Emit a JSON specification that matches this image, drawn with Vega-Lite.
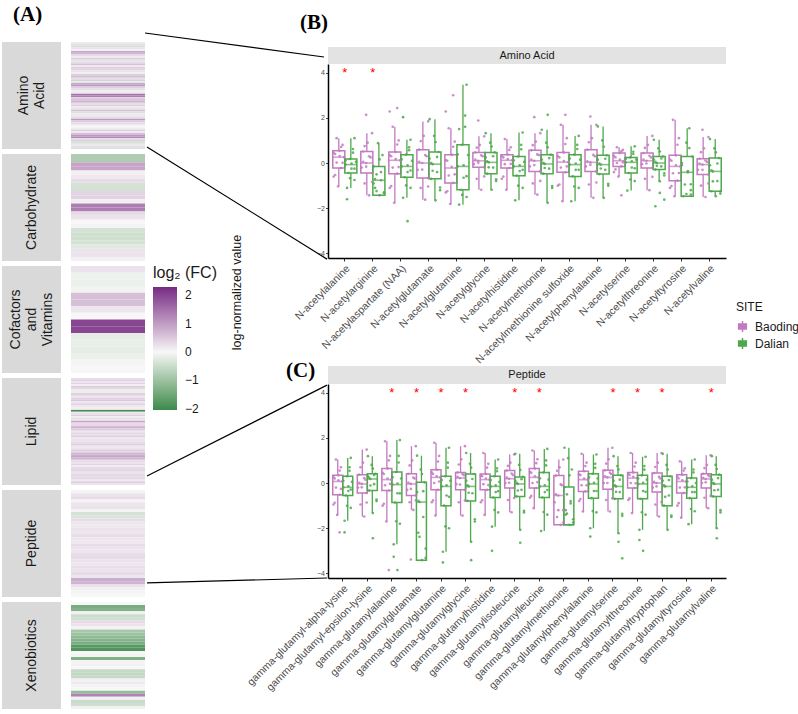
{
"$schema":"https://vega.github.io/schema/vega-lite/v6.json",
"padding":{"left":2,"top":4,"right":2,"bottom":2},
"background":"white",
"config":{"font":"Liberation Sans","view":{"stroke":null},"axis":{"grid":false},"title":{"color":"black"}},
"datasets":{
"heat":[
{"c":"AA","i":1,"f":0.15},{"c":"AA","i":2,"f":0.3},{"c":"AA","i":3,"f":-0.4},{"c":"AA","i":4,"f":0.22},{"c":"AA","i":5,"f":0.08},{"c":"AA","i":6,"f":0.9},{"c":"AA","i":7,"f":0.75},{"c":"AA","i":8,"f":0.3},{"c":"AA","i":9,"f":0.15},{"c":"AA","i":10,"f":0.45},
{"c":"AA","i":11,"f":-0.26},{"c":"AA","i":12,"f":0.3},{"c":"AA","i":13,"f":0.6},{"c":"AA","i":14,"f":0.15},{"c":"AA","i":15,"f":0.45},{"c":"AA","i":16,"f":0.38},{"c":"AA","i":17,"f":0.22},{"c":"AA","i":18,"f":-0.13},{"c":"AA","i":19,"f":0.45},{"c":"AA","i":20,"f":0.6},
{"c":"AA","i":21,"f":0.3},{"c":"AA","i":22,"f":-0.52},{"c":"AA","i":23,"f":0.22},{"c":"AA","i":24,"f":0.9},{"c":"AA","i":25,"f":1.05},{"c":"AA","i":26,"f":0.45},{"c":"AA","i":27,"f":0.3},{"c":"AA","i":28,"f":-0.13},{"c":"AA","i":29,"f":0.15},{"c":"AA","i":30,"f":1.5},
{"c":"AA","i":31,"f":1.35},{"c":"AA","i":32,"f":0.45},{"c":"AA","i":33,"f":0.6},{"c":"AA","i":34,"f":0.75},{"c":"AA","i":35,"f":0.3},{"c":"AA","i":36,"f":0.45},{"c":"AA","i":37,"f":0.15},{"c":"AA","i":38,"f":-0.26},{"c":"AA","i":39,"f":0.6},{"c":"AA","i":40,"f":0.3},
{"c":"AA","i":41,"f":0.15},{"c":"AA","i":42,"f":-0.2},{"c":"AA","i":43,"f":0.3},{"c":"AA","i":44,"f":1.05},{"c":"AA","i":45,"f":0.45},{"c":"AA","i":46,"f":0.3},{"c":"AA","i":47,"f":0.15},{"c":"AA","i":48,"f":0.0},{"c":"AA","i":49,"f":-0.13},{"c":"AA","i":50,"f":0.45},
{"c":"AA","i":51,"f":0.15},{"c":"AA","i":52,"f":0.6},{"c":"AA","i":53,"f":1.05},{"c":"AA","i":54,"f":1.2},{"c":"AA","i":55,"f":0.3},{"c":"AA","i":56,"f":0.45},{"c":"AA","i":57,"f":-0.4},{"c":"AA","i":58,"f":0.15},{"c":"AA","i":59,"f":0.3},{"c":"AA","i":60,"f":-0.4},
{"c":"CH","i":1,"f":-0.78},{"c":"CH","i":2,"f":-0.78},{"c":"CH","i":3,"f":0.9},{"c":"CH","i":4,"f":0.9},{"c":"CH","i":5,"f":0.08},{"c":"CH","i":6,"f":0.15},{"c":"CH","i":7,"f":0.3},{"c":"CH","i":8,"f":-0.4},{"c":"CH","i":9,"f":-0.4},{"c":"CH","i":10,"f":0.38},
{"c":"CH","i":11,"f":0.38},{"c":"CH","i":12,"f":0.08},{"c":"CH","i":13,"f":1.35},{"c":"CH","i":14,"f":1.35},{"c":"CH","i":15,"f":0.3},{"c":"CH","i":16,"f":0.22},{"c":"CH","i":17,"f":0.0},{"c":"CH","i":18,"f":0.03},{"c":"CH","i":19,"f":-0.4},{"c":"CH","i":20,"f":-0.45},
{"c":"CH","i":21,"f":-0.45},{"c":"CH","i":22,"f":-0.4},{"c":"CH","i":23,"f":-0.26},{"c":"CH","i":24,"f":0.22},{"c":"CH","i":25,"f":0.22},{"c":"CH","i":26,"f":0.08},
{"c":"CV","i":1,"f":0.22},{"c":"CV","i":2,"f":-0.1},{"c":"CV","i":3,"f":-0.13},{"c":"CV","i":4,"f":-0.07},{"c":"CV","i":5,"f":0.6},{"c":"CV","i":6,"f":0.6},{"c":"CV","i":7,"f":0.18},{"c":"CV","i":8,"f":0.0},{"c":"CV","i":9,"f":2.0},{"c":"CV","i":10,"f":2.0},
{"c":"CV","i":11,"f":-0.2},{"c":"CV","i":12,"f":-0.16},{"c":"CV","i":13,"f":-0.2},{"c":"CV","i":14,"f":-0.13},{"c":"CV","i":15,"f":0.03},{"c":"CV","i":16,"f":0.0},
{"c":"LI","i":1,"f":0.3},{"c":"LI","i":2,"f":0.45},{"c":"LI","i":3,"f":0.15},{"c":"LI","i":4,"f":0.38},{"c":"LI","i":5,"f":0.08},{"c":"LI","i":6,"f":0.45},{"c":"LI","i":7,"f":0.52},{"c":"LI","i":8,"f":0.15},{"c":"LI","i":9,"f":-0.2},{"c":"LI","i":10,"f":-0.13},
{"c":"LI","i":11,"f":0.6},{"c":"LI","i":12,"f":0.3},{"c":"LI","i":13,"f":0.22},{"c":"LI","i":14,"f":0.45},{"c":"LI","i":15,"f":0.52},{"c":"LI","i":16,"f":0.15},{"c":"LI","i":17,"f":0.3},{"c":"LI","i":18,"f":0.38},{"c":"LI","i":19,"f":0.15},{"c":"LI","i":20,"f":0.08},
{"c":"LI","i":21,"f":0.22},{"c":"LI","i":22,"f":-2.0},{"c":"LI","i":23,"f":0.15},{"c":"LI","i":24,"f":0.3},{"c":"LI","i":25,"f":0.45},{"c":"LI","i":26,"f":-0.13},{"c":"LI","i":27,"f":0.3},{"c":"LI","i":28,"f":0.22},{"c":"LI","i":29,"f":0.9},{"c":"LI","i":30,"f":0.45},
{"c":"LI","i":31,"f":0.3},{"c":"LI","i":32,"f":0.6},{"c":"LI","i":33,"f":0.75},{"c":"LI","i":34,"f":0.45},{"c":"LI","i":35,"f":0.3},{"c":"LI","i":36,"f":0.22},{"c":"LI","i":37,"f":0.38},{"c":"LI","i":38,"f":0.3},{"c":"LI","i":39,"f":0.45},{"c":"LI","i":40,"f":0.15},
{"c":"LI","i":41,"f":0.3},{"c":"LI","i":42,"f":0.22},{"c":"LI","i":43,"f":0.38},{"c":"LI","i":44,"f":0.45},{"c":"LI","i":45,"f":0.3},{"c":"LI","i":46,"f":0.15},{"c":"LI","i":47,"f":0.3},{"c":"LI","i":48,"f":0.45},{"c":"LI","i":49,"f":0.38},{"c":"LI","i":50,"f":0.75},
{"c":"LI","i":51,"f":0.82},{"c":"LI","i":52,"f":0.9},{"c":"LI","i":53,"f":0.75},{"c":"LI","i":54,"f":0.45},{"c":"LI","i":55,"f":0.3},{"c":"LI","i":56,"f":0.22},{"c":"LI","i":57,"f":0.38},{"c":"LI","i":58,"f":0.15},{"c":"LI","i":59,"f":0.3},{"c":"LI","i":60,"f":0.45},
{"c":"LI","i":61,"f":0.38},{"c":"LI","i":62,"f":0.3},{"c":"LI","i":63,"f":0.22},{"c":"LI","i":64,"f":0.45},{"c":"LI","i":65,"f":0.3},{"c":"LI","i":66,"f":0.38},{"c":"LI","i":67,"f":0.15},{"c":"LI","i":68,"f":0.3},{"c":"LI","i":69,"f":0.45},{"c":"LI","i":70,"f":0.22},
{"c":"PE","i":1,"f":0.03},{"c":"PE","i":2,"f":0.22},{"c":"PE","i":3,"f":0.3},{"c":"PE","i":4,"f":0.05},{"c":"PE","i":5,"f":0.22},{"c":"PE","i":6,"f":0.22},{"c":"PE","i":7,"f":0.03},{"c":"PE","i":8,"f":-0.4},{"c":"PE","i":9,"f":-0.33},{"c":"PE","i":10,"f":0.3},
{"c":"PE","i":11,"f":0.18},{"c":"PE","i":12,"f":0.15},{"c":"PE","i":13,"f":0.22},{"c":"PE","i":14,"f":0.18},{"c":"PE","i":15,"f":0.27},{"c":"PE","i":16,"f":0.18},{"c":"PE","i":17,"f":0.15},{"c":"PE","i":18,"f":0.3},{"c":"PE","i":19,"f":0.22},{"c":"PE","i":20,"f":0.18},
{"c":"PE","i":21,"f":0.27},{"c":"PE","i":22,"f":0.3},{"c":"PE","i":23,"f":0.22},{"c":"PE","i":24,"f":0.18},{"c":"PE","i":25,"f":0.27},{"c":"PE","i":26,"f":0.22},{"c":"PE","i":27,"f":0.3},{"c":"PE","i":28,"f":0.18},{"c":"PE","i":29,"f":0.82},{"c":"PE","i":30,"f":0.75},
{"c":"PE","i":31,"f":0.22},{"c":"PE","i":32,"f":0.08},{"c":"PE","i":33,"f":0.03},{"c":"PE","i":34,"f":0.0},
{"c":"XE","i":1,"f":0.0},{"c":"XE","i":2,"f":-1.4},{"c":"XE","i":3,"f":-1.3},{"c":"XE","i":4,"f":0.08},{"c":"XE","i":5,"f":-0.5},{"c":"XE","i":6,"f":-0.45},{"c":"XE","i":7,"f":0.3},{"c":"XE","i":8,"f":0.22},{"c":"XE","i":9,"f":0.05},{"c":"XE","i":10,"f":-0.9},
{"c":"XE","i":11,"f":-1.0},{"c":"XE","i":12,"f":-1.15},{"c":"XE","i":13,"f":-1.25},{"c":"XE","i":14,"f":-1.35},{"c":"XE","i":15,"f":-1.75},{"c":"XE","i":16,"f":-1.85},{"c":"XE","i":17,"f":0.0},{"c":"XE","i":18,"f":0.03},{"c":"XE","i":19,"f":-1.3},{"c":"XE","i":20,"f":0.03},
{"c":"XE","i":21,"f":0.08},{"c":"XE","i":22,"f":0.0},{"c":"XE","i":23,"f":-0.55},{"c":"XE","i":24,"f":-0.6},{"c":"XE","i":25,"f":-0.55},{"c":"XE","i":26,"f":0.08},{"c":"XE","i":27,"f":0.15},{"c":"XE","i":28,"f":0.03},{"c":"XE","i":29,"f":0.0},{"c":"XE","i":30,"f":-1.1},
{"c":"XE","i":31,"f":1.3},{"c":"XE","i":32,"f":0.08},{"c":"XE","i":33,"f":-0.5},{"c":"XE","i":34,"f":-0.45},{"c":"XE","i":35,"f":0.08}
],
"namesB":[{"m":1,"name":"N-acetylalanine"},{"m":2,"name":"N-acetylarginine"},{"m":3,"name":"N-acetylaspartate (NAA)"},{"m":4,"name":"N-acetylglutamate"},{"m":5,"name":"N-acetylglutamine"},{"m":6,"name":"N-acetylglycine"},{"m":7,"name":"N-acetylhistidine"},{"m":8,"name":"N-acetylmethionine"},{"m":9,"name":"N-acetylmethionine sulfoxide"},{"m":10,"name":"N-acetylphenylalanine"},{"m":11,"name":"N-acetylserine"},{"m":12,"name":"N-acetylthreonine"},{"m":13,"name":"N-acetyltyrosine"},{"m":14,"name":"N-acetylvaline"}],
"namesC":[{"m":1,"name":"gamma-glutamyl-alpha-lysine"},{"m":2,"name":"gamma-glutamyl-epsilon-lysine"},{"m":3,"name":"gamma-glutamylalanine"},{"m":4,"name":"gamma-glutamylglutamate"},{"m":5,"name":"gamma-glutamylglutamine"},{"m":6,"name":"gamma-glutamylglycine"},{"m":7,"name":"gamma-glutamylhistidine"},{"m":8,"name":"gamma-glutamylisoleucine"},{"m":9,"name":"gamma-glutamylleucine"},{"m":10,"name":"gamma-glutamylmethionine"},{"m":11,"name":"gamma-glutamylphenylalanine"},{"m":12,"name":"gamma-glutamylserine"},{"m":13,"name":"gamma-glutamylthreonine"},{"m":14,"name":"gamma-glutamyltryptophan"},{"m":15,"name":"gamma-glutamyltyrosine"},{"m":16,"name":"gamma-glutamylvaline"}],
"jsite":[{"j":1,"site":"Baoding"},{"j":2,"site":"Baoding"},{"j":3,"site":"Baoding"},{"j":4,"site":"Baoding"},{"j":5,"site":"Baoding"},{"j":6,"site":"Baoding"},{"j":7,"site":"Baoding"},{"j":8,"site":"Baoding"},{"j":9,"site":"Dalian"},{"j":10,"site":"Dalian"},{"j":11,"site":"Dalian"},{"j":12,"site":"Dalian"},{"j":13,"site":"Dalian"},{"j":14,"site":"Dalian"},{"j":15,"site":"Dalian"},{"j":16,"site":"Dalian"}],
"boxB":[
{"m":1,"site":"Baoding","lo":-1.03,"q1":-0.22,"md":0.26,"q3":0.54,"hi":1.1},{"m":1,"site":"Dalian","lo":-1.1,"q1":-0.44,"md":-0.07,"q3":0.18,"hi":1.1},
{"m":2,"site":"Baoding","lo":-1.43,"q1":-0.44,"md":0.0,"q3":0.51,"hi":1.32},{"m":2,"site":"Dalian","lo":-1.43,"q1":-1.43,"md":-0.76,"q3":-0.15,"hi":0.88},
{"m":3,"site":"Baoding","lo":-1.76,"q1":-0.47,"md":0.12,"q3":0.49,"hi":1.6},{"m":3,"site":"Dalian","lo":-1.54,"q1":-0.63,"md":-0.15,"q3":0.37,"hi":1.03},
{"m":4,"site":"Baoding","lo":-1.62,"q1":-0.66,"md":0.0,"q3":0.59,"hi":1.84},{"m":4,"site":"Dalian","lo":-1.65,"q1":-0.7,"md":-0.05,"q3":0.49,"hi":1.94},
{"m":5,"site":"Baoding","lo":-1.81,"q1":-0.88,"md":-0.22,"q3":0.37,"hi":1.54},{"m":5,"site":"Dalian","lo":-1.84,"q1":-1.18,"md":-0.15,"q3":0.81,"hi":3.46},
{"m":6,"site":"Baoding","lo":-1.18,"q1":-0.19,"md":0.1,"q3":0.47,"hi":1.18},{"m":6,"site":"Dalian","lo":-1.18,"q1":-0.47,"md":0.03,"q3":0.47,"hi":1.32},
{"m":7,"site":"Baoding","lo":-1.18,"q1":-0.22,"md":0.12,"q3":0.37,"hi":1.06},{"m":7,"site":"Dalian","lo":-1.65,"q1":-0.56,"md":-0.15,"q3":0.29,"hi":1.35},
{"m":8,"site":"Baoding","lo":-1.4,"q1":-0.37,"md":0.1,"q3":0.56,"hi":1.32},{"m":8,"site":"Dalian","lo":-1.76,"q1":-0.47,"md":-0.04,"q3":0.37,"hi":1.47},
{"m":9,"site":"Baoding","lo":-1.69,"q1":-0.41,"md":0.04,"q3":0.47,"hi":1.69},{"m":9,"site":"Dalian","lo":-1.69,"q1":-0.59,"md":-0.07,"q3":0.37,"hi":1.2},
{"m":10,"site":"Baoding","lo":-1.54,"q1":-0.37,"md":0.03,"q3":0.59,"hi":1.69},{"m":10,"site":"Dalian","lo":-1.54,"q1":-0.49,"md":-0.07,"q3":0.34,"hi":1.62},
{"m":11,"site":"Baoding","lo":-0.6,"q1":-0.15,"md":0.1,"q3":0.44,"hi":0.7},{"m":11,"site":"Dalian","lo":-1.22,"q1":-0.44,"md":0.03,"q3":0.25,"hi":0.74},
{"m":12,"site":"Baoding","lo":-1.2,"q1":-0.22,"md":0.1,"q3":0.44,"hi":1.2},{"m":12,"site":"Dalian","lo":-0.81,"q1":-0.29,"md":0.0,"q3":0.29,"hi":1.03},
{"m":13,"site":"Baoding","lo":-1.47,"q1":-0.78,"md":-0.15,"q3":0.34,"hi":1.91},{"m":13,"site":"Dalian","lo":-1.47,"q1":-1.47,"md":-0.41,"q3":0.29,"hi":1.54},
{"m":14,"site":"Baoding","lo":-1.5,"q1":-0.51,"md":-0.07,"q3":0.19,"hi":1.15},{"m":14,"site":"Dalian","lo":-1.47,"q1":-1.25,"md":-0.37,"q3":0.22,"hi":1.06}
],
"boxC":[
{"m":1,"site":"Baoding","lo":-1.41,"q1":-0.52,"md":0.07,"q3":0.34,"hi":1.04},{"m":1,"site":"Dalian","lo":-1.67,"q1":-0.55,"md":-0.19,"q3":0.3,"hi":1.11},
{"m":2,"site":"Baoding","lo":-1.48,"q1":-0.44,"md":-0.04,"q3":0.37,"hi":1.48},{"m":2,"site":"Dalian","lo":-1.33,"q1":-0.33,"md":0.18,"q3":0.41,"hi":1.19},
{"m":3,"site":"Baoding","lo":-1.7,"q1":-0.33,"md":0.15,"q3":0.64,"hi":1.85},{"m":3,"site":"Dalian","lo":-2.71,"q1":-0.86,"md":-0.07,"q3":0.49,"hi":1.9},
{"m":4,"site":"Baoding","lo":-1.19,"q1":-0.55,"md":-0.04,"q3":0.41,"hi":1.63},{"m":4,"site":"Dalian","lo":-3.41,"q1":-3.41,"md":-0.84,"q3":0.03,"hi":1.21},
{"m":5,"site":"Baoding","lo":-1.44,"q1":-0.3,"md":0.25,"q3":0.59,"hi":1.78},{"m":5,"site":"Dalian","lo":-3.04,"q1":-1.0,"md":-0.15,"q3":0.3,"hi":1.56},
{"m":6,"site":"Baoding","lo":-1.44,"q1":-0.3,"md":0.22,"q3":0.47,"hi":1.63},{"m":6,"site":"Dalian","lo":-2.6,"q1":-0.79,"md":-0.15,"q3":0.4,"hi":1.33},
{"m":7,"site":"Baoding","lo":-1.41,"q1":-0.3,"md":0.15,"q3":0.4,"hi":1.33},{"m":7,"site":"Dalian","lo":-1.93,"q1":-0.64,"md":-0.15,"q3":0.3,"hi":1.04},
{"m":8,"site":"Baoding","lo":-1.29,"q1":-0.22,"md":0.19,"q3":0.55,"hi":1.26},{"m":8,"site":"Dalian","lo":-2.07,"q1":-0.59,"md":-0.04,"q3":0.27,"hi":1.29},
{"m":9,"site":"Baoding","lo":-1.11,"q1":-0.22,"md":0.25,"q3":0.64,"hi":1.44},{"m":9,"site":"Dalian","lo":-2.12,"q1":-0.64,"md":-0.15,"q3":0.47,"hi":1.51},
{"m":10,"site":"Baoding","lo":-1.85,"q1":-1.85,"md":-0.55,"q3":0.33,"hi":1.04},{"m":10,"site":"Dalian","lo":-1.85,"q1":-1.85,"md":-1.85,"q3":-0.18,"hi":1.56},
{"m":11,"site":"Baoding","lo":-1.26,"q1":-0.37,"md":0.15,"q3":0.52,"hi":1.29},{"m":11,"site":"Dalian","lo":-2.0,"q1":-0.67,"md":-0.04,"q3":0.41,"hi":1.26},
{"m":12,"site":"Baoding","lo":-1.26,"q1":-0.27,"md":0.25,"q3":0.56,"hi":1.56},{"m":12,"site":"Dalian","lo":-2.22,"q1":-0.7,"md":-0.15,"q3":0.34,"hi":1.19},
{"m":13,"site":"Baoding","lo":-1.33,"q1":-0.22,"md":0.22,"q3":0.47,"hi":1.33},{"m":13,"site":"Dalian","lo":-2.07,"q1":-0.7,"md":-0.04,"q3":0.34,"hi":1.16},
{"m":14,"site":"Baoding","lo":-1.48,"q1":-0.4,"md":0.0,"q3":0.44,"hi":1.33},{"m":14,"site":"Dalian","lo":-2.07,"q1":-1.0,"md":-0.15,"q3":0.3,"hi":1.29},
{"m":15,"site":"Baoding","lo":-1.53,"q1":-0.44,"md":0.07,"q3":0.37,"hi":0.96},{"m":15,"site":"Dalian","lo":-1.82,"q1":-0.67,"md":-0.19,"q3":0.22,"hi":1.04},
{"m":16,"site":"Baoding","lo":-1.11,"q1":-0.22,"md":0.18,"q3":0.41,"hi":1.23},{"m":16,"site":"Dalian","lo":-2.0,"q1":-0.59,"md":-0.04,"q3":0.37,"hi":1.19}
],
"sigB":[{"m":1},{"m":2}],
"sigC":[{"m":3},{"m":4},{"m":5},{"m":6},{"m":8},{"m":9},{"m":12},{"m":13},{"m":14},{"m":16}],
"ptsB":[
{"m":1,"j":4,"v":-1.03},{"m":1,"j":1,"v":-0.6},{"m":1,"j":6,"v":-0.22},{"m":1,"j":3,"v":0.02},{"m":1,"j":8,"v":0.26},{"m":1,"j":2,"v":0.4},{"m":1,"j":5,"v":0.54},{"m":1,"j":7,"v":0.8},{"m":1,"j":3,"v":1.1},
{"m":1,"j":10,"v":-1.1},{"m":1,"j":15,"v":-0.75},{"m":1,"j":11,"v":-0.44},{"m":1,"j":13,"v":-0.25},{"m":1,"j":9,"v":-0.07},{"m":1,"j":16,"v":0.05},{"m":1,"j":12,"v":0.18},{"m":1,"j":14,"v":0.62},{"m":1,"j":15,"v":1.1},{"m":1,"j":10,"v":-1.6},
{"m":2,"j":6,"v":-1.43},{"m":2,"j":3,"v":-0.9},{"m":2,"j":8,"v":-0.44},{"m":2,"j":1,"v":-0.2},{"m":2,"j":4,"v":0.0},{"m":2,"j":7,"v":0.25},{"m":2,"j":2,"v":0.51},{"m":2,"j":5,"v":0.9},{"m":2,"j":8,"v":1.32},{"m":2,"j":4,"v":2.13},
{"m":2,"j":13,"v":-1.43},{"m":2,"j":16,"v":-1.3},{"m":2,"j":10,"v":-1.1},{"m":2,"j":14,"v":-0.76},{"m":2,"j":11,"v":-0.5},{"m":2,"j":9,"v":-0.15},{"m":2,"j":15,"v":0.35},{"m":2,"j":12,"v":0.88},{"m":2,"j":9,"v":-0.9},
{"m":3,"j":4,"v":-1.76},{"m":3,"j":1,"v":-1.1},{"m":3,"j":6,"v":-0.47},{"m":3,"j":3,"v":-0.2},{"m":3,"j":8,"v":0.12},{"m":3,"j":2,"v":0.3},{"m":3,"j":5,"v":0.49},{"m":3,"j":7,"v":1.0},{"m":3,"j":3,"v":1.6},{"m":3,"j":6,"v":2.43},{"m":3,"j":1,"v":2.28},
{"m":3,"j":10,"v":-1.54},{"m":3,"j":15,"v":-1.1},{"m":3,"j":11,"v":-0.63},{"m":3,"j":13,"v":-0.4},{"m":3,"j":9,"v":-0.15},{"m":3,"j":16,"v":0.1},{"m":3,"j":12,"v":0.37},{"m":3,"j":14,"v":0.7},{"m":3,"j":15,"v":1.03},{"m":3,"j":10,"v":2.03},{"m":3,"j":13,"v":-2.57},
{"m":4,"j":6,"v":-1.62},{"m":4,"j":3,"v":-1.1},{"m":4,"j":8,"v":-0.66},{"m":4,"j":1,"v":-0.3},{"m":4,"j":4,"v":0.0},{"m":4,"j":7,"v":0.3},{"m":4,"j":2,"v":0.59},{"m":4,"j":5,"v":1.2},{"m":4,"j":8,"v":1.84},
{"m":4,"j":13,"v":-1.65},{"m":4,"j":16,"v":-1.2},{"m":4,"j":10,"v":-0.7},{"m":4,"j":14,"v":-0.4},{"m":4,"j":11,"v":-0.05},{"m":4,"j":9,"v":0.2},{"m":4,"j":15,"v":0.49},{"m":4,"j":12,"v":1.2},{"m":4,"j":9,"v":1.94},
{"m":5,"j":4,"v":-1.81},{"m":5,"j":1,"v":-1.3},{"m":5,"j":6,"v":-0.88},{"m":5,"j":3,"v":-0.55},{"m":5,"j":8,"v":-0.22},{"m":5,"j":2,"v":0.1},{"m":5,"j":5,"v":0.37},{"m":5,"j":7,"v":0.95},{"m":5,"j":3,"v":1.54},{"m":5,"j":6,"v":3.0},{"m":5,"j":1,"v":2.28},
{"m":5,"j":10,"v":-1.84},{"m":5,"j":15,"v":-1.5},{"m":5,"j":11,"v":-1.18},{"m":5,"j":13,"v":-0.65},{"m":5,"j":9,"v":-0.15},{"m":5,"j":16,"v":0.35},{"m":5,"j":12,"v":0.81},{"m":5,"j":14,"v":2.1},{"m":5,"j":15,"v":3.46},{"m":5,"j":10,"v":1.5},
{"m":6,"j":6,"v":-1.18},{"m":6,"j":3,"v":-0.7},{"m":6,"j":8,"v":-0.19},{"m":6,"j":1,"v":-0.05},{"m":6,"j":4,"v":0.1},{"m":6,"j":7,"v":0.3},{"m":6,"j":2,"v":0.47},{"m":6,"j":5,"v":0.8},{"m":6,"j":8,"v":1.18},{"m":6,"j":4,"v":1.88},
{"m":6,"j":13,"v":-1.18},{"m":6,"j":16,"v":-0.8},{"m":6,"j":10,"v":-0.47},{"m":6,"j":14,"v":-0.2},{"m":6,"j":11,"v":0.03},{"m":6,"j":9,"v":0.25},{"m":6,"j":15,"v":0.47},{"m":6,"j":12,"v":0.9},{"m":6,"j":9,"v":1.32},
{"m":7,"j":4,"v":-1.18},{"m":7,"j":1,"v":-0.7},{"m":7,"j":6,"v":-0.22},{"m":7,"j":3,"v":-0.05},{"m":7,"j":8,"v":0.12},{"m":7,"j":2,"v":0.25},{"m":7,"j":5,"v":0.37},{"m":7,"j":7,"v":0.7},{"m":7,"j":3,"v":1.06},
{"m":7,"j":10,"v":-1.65},{"m":7,"j":15,"v":-1.1},{"m":7,"j":11,"v":-0.56},{"m":7,"j":13,"v":-0.35},{"m":7,"j":9,"v":-0.15},{"m":7,"j":16,"v":0.05},{"m":7,"j":12,"v":0.29},{"m":7,"j":14,"v":0.8},{"m":7,"j":15,"v":1.35},
{"m":8,"j":6,"v":-1.4},{"m":8,"j":3,"v":-0.9},{"m":8,"j":8,"v":-0.37},{"m":8,"j":1,"v":-0.15},{"m":8,"j":4,"v":0.1},{"m":8,"j":7,"v":0.35},{"m":8,"j":2,"v":0.56},{"m":8,"j":5,"v":0.95},{"m":8,"j":8,"v":1.32},{"m":8,"j":4,"v":2.03},
{"m":8,"j":13,"v":-1.76},{"m":8,"j":16,"v":-1.1},{"m":8,"j":10,"v":-0.47},{"m":8,"j":14,"v":-0.25},{"m":8,"j":11,"v":-0.04},{"m":8,"j":9,"v":0.15},{"m":8,"j":15,"v":0.37},{"m":8,"j":12,"v":0.9},{"m":8,"j":9,"v":1.47},{"m":8,"j":13,"v":2.13},
{"m":9,"j":4,"v":-1.69},{"m":9,"j":1,"v":-1.0},{"m":9,"j":6,"v":-0.41},{"m":9,"j":3,"v":-0.2},{"m":9,"j":8,"v":0.04},{"m":9,"j":2,"v":0.25},{"m":9,"j":5,"v":0.47},{"m":9,"j":7,"v":1.1},{"m":9,"j":3,"v":1.69},{"m":9,"j":6,"v":2.13},
{"m":9,"j":10,"v":-1.69},{"m":9,"j":15,"v":-1.1},{"m":9,"j":11,"v":-0.59},{"m":9,"j":13,"v":-0.3},{"m":9,"j":9,"v":-0.07},{"m":9,"j":16,"v":0.15},{"m":9,"j":12,"v":0.37},{"m":9,"j":14,"v":0.8},{"m":9,"j":15,"v":1.2},
{"m":10,"j":6,"v":-1.54},{"m":10,"j":3,"v":-0.95},{"m":10,"j":8,"v":-0.37},{"m":10,"j":1,"v":-0.15},{"m":10,"j":4,"v":0.03},{"m":10,"j":7,"v":0.3},{"m":10,"j":2,"v":0.59},{"m":10,"j":5,"v":1.1},{"m":10,"j":8,"v":1.69},{"m":10,"j":4,"v":2.06},
{"m":10,"j":13,"v":-1.54},{"m":10,"j":16,"v":-1.0},{"m":10,"j":10,"v":-0.49},{"m":10,"j":14,"v":-0.3},{"m":10,"j":11,"v":-0.07},{"m":10,"j":9,"v":0.15},{"m":10,"j":15,"v":0.34},{"m":10,"j":12,"v":1.0},{"m":10,"j":9,"v":1.62},
{"m":11,"j":4,"v":-0.6},{"m":11,"j":1,"v":-0.4},{"m":11,"j":6,"v":-0.15},{"m":11,"j":3,"v":0.0},{"m":11,"j":8,"v":0.1},{"m":11,"j":2,"v":0.25},{"m":11,"j":5,"v":0.44},{"m":11,"j":7,"v":0.58},{"m":11,"j":3,"v":0.7},{"m":11,"j":6,"v":-1.43},
{"m":11,"j":10,"v":-1.22},{"m":11,"j":15,"v":-0.8},{"m":11,"j":11,"v":-0.44},{"m":11,"j":13,"v":-0.2},{"m":11,"j":9,"v":0.03},{"m":11,"j":16,"v":0.15},{"m":11,"j":12,"v":0.25},{"m":11,"j":14,"v":0.5},{"m":11,"j":15,"v":0.74},
{"m":12,"j":6,"v":-1.2},{"m":12,"j":3,"v":-0.7},{"m":12,"j":8,"v":-0.22},{"m":12,"j":1,"v":-0.05},{"m":12,"j":4,"v":0.1},{"m":12,"j":7,"v":0.25},{"m":12,"j":2,"v":0.44},{"m":12,"j":5,"v":0.8},{"m":12,"j":8,"v":1.2},
{"m":12,"j":13,"v":-0.81},{"m":12,"j":16,"v":-0.55},{"m":12,"j":10,"v":-0.29},{"m":12,"j":14,"v":-0.15},{"m":12,"j":11,"v":0.0},{"m":12,"j":9,"v":0.15},{"m":12,"j":15,"v":0.29},{"m":12,"j":12,"v":0.65},{"m":12,"j":9,"v":1.03},{"m":12,"j":13,"v":-1.32},{"m":12,"j":16,"v":-1.62},{"m":12,"j":10,"v":-1.91},
{"m":13,"j":4,"v":-1.47},{"m":13,"j":1,"v":-1.1},{"m":13,"j":6,"v":-0.78},{"m":13,"j":3,"v":-0.45},{"m":13,"j":8,"v":-0.15},{"m":13,"j":2,"v":0.1},{"m":13,"j":5,"v":0.34},{"m":13,"j":7,"v":1.1},{"m":13,"j":3,"v":1.91},
{"m":13,"j":10,"v":-1.47},{"m":13,"j":15,"v":-1.2},{"m":13,"j":11,"v":-0.95},{"m":13,"j":13,"v":-0.41},{"m":13,"j":9,"v":-0.1},{"m":13,"j":16,"v":0.29},{"m":13,"j":12,"v":0.9},{"m":13,"j":14,"v":1.54},{"m":13,"j":15,"v":-1.4},
{"m":14,"j":6,"v":-1.5},{"m":14,"j":3,"v":-1.0},{"m":14,"j":8,"v":-0.51},{"m":14,"j":1,"v":-0.3},{"m":14,"j":4,"v":-0.07},{"m":14,"j":7,"v":0.05},{"m":14,"j":2,"v":0.19},{"m":14,"j":5,"v":0.65},{"m":14,"j":8,"v":1.15},{"m":14,"j":4,"v":1.47},
{"m":14,"j":13,"v":-1.47},{"m":14,"j":16,"v":-1.35},{"m":14,"j":10,"v":-1.25},{"m":14,"j":14,"v":-0.8},{"m":14,"j":11,"v":-0.37},{"m":14,"j":9,"v":-0.1},{"m":14,"j":15,"v":0.22},{"m":14,"j":12,"v":0.65},{"m":14,"j":9,"v":1.06},
{"m":1,"j":2,"v":-0.53},{"m":1,"j":7,"v":0.01},{"m":1,"j":5,"v":0.31},{"m":1,"j":1,"v":0.45},{"m":1,"j":6,"v":0.71},{"m":1,"j":12,"v":-0.67},{"m":1,"j":15,"v":-0.25},{"m":1,"j":13,"v":-0.02},{"m":1,"j":9,"v":0.11},{"m":1,"j":14,"v":0.46},
{"m":2,"j":8,"v":-0.84},{"m":2,"j":4,"v":-0.16},{"m":2,"j":2,"v":0.05},{"m":2,"j":6,"v":0.3},{"m":2,"j":3,"v":0.75},{"m":2,"j":16,"v":-1.33},{"m":2,"j":11,"v":-1.24},{"m":2,"j":10,"v":-0.71},{"m":2,"j":14,"v":-0.4},{"m":2,"j":13,"v":0.16},
{"m":3,"j":2,"v":-1.02},{"m":3,"j":7,"v":-0.18},{"m":3,"j":5,"v":0.17},{"m":3,"j":1,"v":0.35},{"m":3,"j":6,"v":0.82},{"m":3,"j":12,"v":-0.99},{"m":3,"j":15,"v":-0.33},{"m":3,"j":13,"v":-0.1},{"m":3,"j":9,"v":0.16},{"m":3,"j":14,"v":0.57},
{"m":4,"j":8,"v":-1.04},{"m":4,"j":4,"v":-0.29},{"m":4,"j":2,"v":0.05},{"m":4,"j":6,"v":0.35},{"m":4,"j":3,"v":0.97},{"m":4,"j":16,"v":-1.08},{"m":4,"j":11,"v":-0.34},{"m":4,"j":10,"v":0.0},{"m":4,"j":14,"v":0.27},{"m":4,"j":13,"v":0.93},
{"m":5,"j":2,"v":-1.25},{"m":5,"j":7,"v":-0.5},{"m":5,"j":5,"v":-0.17},{"m":5,"j":1,"v":0.13},{"m":5,"j":6,"v":0.72},{"m":5,"j":12,"v":-1.41},{"m":5,"j":15,"v":-0.58},{"m":5,"j":13,"v":-0.1},{"m":5,"j":9,"v":0.38},{"m":5,"j":14,"v":1.6},
{"m":6,"j":8,"v":-0.59},{"m":6,"j":4,"v":0.01},{"m":6,"j":2,"v":0.15},{"m":6,"j":6,"v":0.34},{"m":6,"j":3,"v":0.68},{"m":6,"j":16,"v":-0.72},{"m":6,"j":11,"v":-0.19},{"m":6,"j":10,"v":0.08},{"m":6,"j":14,"v":0.3},{"m":6,"j":13,"v":0.73},
{"m":7,"j":2,"v":-0.6},{"m":7,"j":7,"v":-0.04},{"m":7,"j":5,"v":0.17},{"m":7,"j":1,"v":0.3},{"m":7,"j":6,"v":0.58},{"m":7,"j":12,"v":-1.0},{"m":7,"j":15,"v":-0.3},{"m":7,"j":13,"v":-0.1},{"m":7,"j":9,"v":0.12},{"m":7,"j":14,"v":0.61},
{"m":8,"j":8,"v":-0.79},{"m":8,"j":4,"v":-0.09},{"m":8,"j":2,"v":0.15},{"m":8,"j":6,"v":0.38},{"m":8,"j":3,"v":0.79},{"m":8,"j":16,"v":-1.02},{"m":8,"j":11,"v":-0.22},{"m":8,"j":10,"v":0.01},{"m":8,"j":14,"v":0.22},{"m":8,"j":13,"v":0.7},
{"m":9,"j":2,"v":-0.95},{"m":9,"j":7,"v":-0.15},{"m":9,"j":5,"v":0.09},{"m":9,"j":1,"v":0.31},{"m":9,"j":6,"v":0.84},{"m":9,"j":12,"v":-1.04},{"m":9,"j":15,"v":-0.3},{"m":9,"j":13,"v":-0.02},{"m":9,"j":9,"v":0.2},{"m":9,"j":14,"v":0.62},
{"m":10,"j":8,"v":-0.86},{"m":10,"j":4,"v":-0.08},{"m":10,"j":2,"v":0.08},{"m":10,"j":6,"v":0.36},{"m":10,"j":3,"v":0.92},{"m":10,"j":16,"v":-0.92},{"m":10,"j":11,"v":-0.24},{"m":10,"j":10,"v":-0.02},{"m":10,"j":14,"v":0.19},{"m":10,"j":13,"v":0.72},
{"m":11,"j":2,"v":-0.28},{"m":11,"j":7,"v":0.03},{"m":11,"j":5,"v":0.15},{"m":11,"j":1,"v":0.32},{"m":11,"j":6,"v":0.52},{"m":11,"j":12,"v":-0.73},{"m":11,"j":15,"v":-0.23},{"m":11,"j":13,"v":0.08},{"m":11,"j":9,"v":0.19},{"m":11,"j":14,"v":0.4},
{"m":12,"j":8,"v":-0.61},{"m":12,"j":4,"v":-0.02},{"m":12,"j":2,"v":0.15},{"m":12,"j":6,"v":0.32},{"m":12,"j":3,"v":0.67},{"m":12,"j":16,"v":-0.45},{"m":12,"j":11,"v":-0.12},{"m":12,"j":10,"v":0.05},{"m":12,"j":14,"v":0.2},{"m":12,"j":13,"v":0.51},
{"m":13,"j":2,"v":-1.02},{"m":13,"j":7,"v":-0.44},{"m":13,"j":5,"v":-0.1},{"m":13,"j":1,"v":0.15},{"m":13,"j":6,"v":0.81},{"m":13,"j":12,"v":-1.37},{"m":13,"j":15,"v":-0.94},{"m":13,"j":13,"v":-0.36},{"m":13,"j":9,"v":0.0},{"m":13,"j":14,"v":0.66},
{"m":14,"j":8,"v":-0.9},{"m":14,"j":4,"v":-0.3},{"m":14,"j":2,"v":-0.02},{"m":14,"j":6,"v":0.11},{"m":14,"j":3,"v":0.48},{"m":14,"j":16,"v":-1.26},{"m":14,"j":11,"v":-0.81},{"m":14,"j":10,"v":-0.32},{"m":14,"j":14,"v":-0.02},{"m":14,"j":13,"v":0.47}
],
"ptsC":[
{"m":1,"j":4,"v":-1.41},{"m":1,"j":1,"v":-0.95},{"m":1,"j":6,"v":-0.52},{"m":1,"j":3,"v":-0.2},{"m":1,"j":8,"v":0.07},{"m":1,"j":2,"v":0.2},{"m":1,"j":5,"v":0.34},{"m":1,"j":7,"v":0.7},{"m":1,"j":3,"v":1.04},{"m":1,"j":6,"v":-2.18},
{"m":1,"j":10,"v":-1.67},{"m":1,"j":15,"v":-1.1},{"m":1,"j":11,"v":-0.55},{"m":1,"j":13,"v":-0.35},{"m":1,"j":9,"v":-0.19},{"m":1,"j":16,"v":0.05},{"m":1,"j":12,"v":0.3},{"m":1,"j":14,"v":0.7},{"m":1,"j":15,"v":1.11},{"m":1,"j":10,"v":-2.18},
{"m":2,"j":6,"v":-1.48},{"m":2,"j":3,"v":-0.95},{"m":2,"j":8,"v":-0.44},{"m":2,"j":1,"v":-0.2},{"m":2,"j":4,"v":-0.04},{"m":2,"j":7,"v":0.15},{"m":2,"j":2,"v":0.37},{"m":2,"j":5,"v":0.9},{"m":2,"j":8,"v":1.48},
{"m":2,"j":13,"v":-1.33},{"m":2,"j":16,"v":-0.8},{"m":2,"j":10,"v":-0.33},{"m":2,"j":14,"v":-0.05},{"m":2,"j":11,"v":0.18},{"m":2,"j":9,"v":0.3},{"m":2,"j":15,"v":0.41},{"m":2,"j":12,"v":0.8},{"m":2,"j":9,"v":1.19},{"m":2,"j":13,"v":-2.44},
{"m":3,"j":4,"v":-1.7},{"m":3,"j":1,"v":-1.0},{"m":3,"j":6,"v":-0.33},{"m":3,"j":3,"v":-0.1},{"m":3,"j":8,"v":0.15},{"m":3,"j":2,"v":0.4},{"m":3,"j":5,"v":0.64},{"m":3,"j":7,"v":1.2},{"m":3,"j":3,"v":1.85},{"m":3,"j":6,"v":-3.85},
{"m":3,"j":10,"v":-2.71},{"m":3,"j":15,"v":-1.8},{"m":3,"j":11,"v":-0.86},{"m":3,"j":13,"v":-0.45},{"m":3,"j":9,"v":-0.07},{"m":3,"j":16,"v":0.2},{"m":3,"j":12,"v":0.49},{"m":3,"j":14,"v":1.2},{"m":3,"j":15,"v":1.9},{"m":3,"j":10,"v":-3.26},{"m":3,"j":13,"v":-3.85},
{"m":4,"j":6,"v":-1.19},{"m":4,"j":3,"v":-0.85},{"m":4,"j":8,"v":-0.55},{"m":4,"j":1,"v":-0.3},{"m":4,"j":4,"v":-0.04},{"m":4,"j":7,"v":0.2},{"m":4,"j":2,"v":0.41},{"m":4,"j":5,"v":1.0},{"m":4,"j":8,"v":1.63},{"m":4,"j":4,"v":-3.38},
{"m":4,"j":13,"v":-3.41},{"m":4,"j":16,"v":-2.9},{"m":4,"j":10,"v":-2.2},{"m":4,"j":14,"v":-1.5},{"m":4,"j":11,"v":-0.84},{"m":4,"j":9,"v":-0.4},{"m":4,"j":15,"v":0.03},{"m":4,"j":12,"v":0.6},{"m":4,"j":9,"v":1.21},
{"m":5,"j":4,"v":-1.44},{"m":5,"j":1,"v":-0.85},{"m":5,"j":6,"v":-0.3},{"m":5,"j":3,"v":0.0},{"m":5,"j":8,"v":0.25},{"m":5,"j":2,"v":0.4},{"m":5,"j":5,"v":0.59},{"m":5,"j":7,"v":1.2},{"m":5,"j":3,"v":1.78},
{"m":5,"j":10,"v":-3.04},{"m":5,"j":15,"v":-2.0},{"m":5,"j":11,"v":-1.0},{"m":5,"j":13,"v":-0.55},{"m":5,"j":9,"v":-0.15},{"m":5,"j":16,"v":0.1},{"m":5,"j":12,"v":0.3},{"m":5,"j":14,"v":0.9},{"m":5,"j":15,"v":1.56},{"m":5,"j":10,"v":-3.51},
{"m":6,"j":6,"v":-1.44},{"m":6,"j":3,"v":-0.85},{"m":6,"j":8,"v":-0.3},{"m":6,"j":1,"v":-0.05},{"m":6,"j":4,"v":0.22},{"m":6,"j":7,"v":0.35},{"m":6,"j":2,"v":0.47},{"m":6,"j":5,"v":1.05},{"m":6,"j":8,"v":1.63},
{"m":6,"j":13,"v":-2.6},{"m":6,"j":16,"v":-1.7},{"m":6,"j":10,"v":-0.79},{"m":6,"j":14,"v":-0.45},{"m":6,"j":11,"v":-0.15},{"m":6,"j":9,"v":0.1},{"m":6,"j":15,"v":0.4},{"m":6,"j":12,"v":0.85},{"m":6,"j":9,"v":1.33},{"m":6,"j":13,"v":-3.41},
{"m":7,"j":4,"v":-1.41},{"m":7,"j":1,"v":-0.85},{"m":7,"j":6,"v":-0.3},{"m":7,"j":3,"v":-0.05},{"m":7,"j":8,"v":0.15},{"m":7,"j":2,"v":0.3},{"m":7,"j":5,"v":0.4},{"m":7,"j":7,"v":0.85},{"m":7,"j":3,"v":1.33},
{"m":7,"j":10,"v":-1.93},{"m":7,"j":15,"v":-1.3},{"m":7,"j":11,"v":-0.64},{"m":7,"j":13,"v":-0.4},{"m":7,"j":9,"v":-0.15},{"m":7,"j":16,"v":0.05},{"m":7,"j":12,"v":0.3},{"m":7,"j":14,"v":0.65},{"m":7,"j":15,"v":1.04},{"m":7,"j":10,"v":-3.0},
{"m":8,"j":6,"v":-1.29},{"m":8,"j":3,"v":-0.75},{"m":8,"j":8,"v":-0.22},{"m":8,"j":1,"v":0.0},{"m":8,"j":4,"v":0.19},{"m":8,"j":7,"v":0.35},{"m":8,"j":2,"v":0.55},{"m":8,"j":5,"v":0.9},{"m":8,"j":8,"v":1.26},
{"m":8,"j":13,"v":-2.07},{"m":8,"j":16,"v":-1.3},{"m":8,"j":10,"v":-0.59},{"m":8,"j":14,"v":-0.3},{"m":8,"j":11,"v":-0.04},{"m":8,"j":9,"v":0.1},{"m":8,"j":15,"v":0.27},{"m":8,"j":12,"v":0.8},{"m":8,"j":9,"v":1.29},{"m":8,"j":13,"v":-2.64},
{"m":9,"j":4,"v":-1.11},{"m":9,"j":1,"v":-0.65},{"m":9,"j":6,"v":-0.22},{"m":9,"j":3,"v":0.0},{"m":9,"j":8,"v":0.25},{"m":9,"j":2,"v":0.45},{"m":9,"j":5,"v":0.64},{"m":9,"j":7,"v":1.05},{"m":9,"j":3,"v":1.44},
{"m":9,"j":10,"v":-2.12},{"m":9,"j":15,"v":-1.4},{"m":9,"j":11,"v":-0.64},{"m":9,"j":13,"v":-0.4},{"m":9,"j":9,"v":-0.15},{"m":9,"j":16,"v":0.15},{"m":9,"j":12,"v":0.47},{"m":9,"j":14,"v":1.0},{"m":9,"j":15,"v":1.51},
{"m":10,"j":6,"v":-1.85},{"m":10,"j":3,"v":-1.5},{"m":10,"j":8,"v":-1.2},{"m":10,"j":1,"v":-0.85},{"m":10,"j":4,"v":-0.55},{"m":10,"j":7,"v":-0.1},{"m":10,"j":2,"v":0.33},{"m":10,"j":5,"v":0.7},{"m":10,"j":8,"v":1.04},
{"m":10,"j":13,"v":-1.85},{"m":10,"j":16,"v":-1.6},{"m":10,"j":10,"v":-1.2},{"m":10,"j":14,"v":-0.8},{"m":10,"j":11,"v":-0.5},{"m":10,"j":9,"v":-0.18},{"m":10,"j":15,"v":0.6},{"m":10,"j":12,"v":1.1},{"m":10,"j":9,"v":1.56},
{"m":11,"j":4,"v":-1.26},{"m":11,"j":1,"v":-0.8},{"m":11,"j":6,"v":-0.37},{"m":11,"j":3,"v":-0.1},{"m":11,"j":8,"v":0.15},{"m":11,"j":2,"v":0.35},{"m":11,"j":5,"v":0.52},{"m":11,"j":7,"v":0.9},{"m":11,"j":3,"v":1.29},
{"m":11,"j":10,"v":-2.0},{"m":11,"j":15,"v":-1.3},{"m":11,"j":11,"v":-0.67},{"m":11,"j":13,"v":-0.35},{"m":11,"j":9,"v":-0.04},{"m":11,"j":16,"v":0.2},{"m":11,"j":12,"v":0.41},{"m":11,"j":14,"v":0.85},{"m":11,"j":15,"v":1.26},{"m":11,"j":10,"v":-2.37},
{"m":12,"j":6,"v":-1.26},{"m":12,"j":3,"v":-0.75},{"m":12,"j":8,"v":-0.27},{"m":12,"j":1,"v":0.0},{"m":12,"j":4,"v":0.25},{"m":12,"j":7,"v":0.4},{"m":12,"j":2,"v":0.56},{"m":12,"j":5,"v":1.05},{"m":12,"j":8,"v":1.56},
{"m":12,"j":13,"v":-2.22},{"m":12,"j":16,"v":-1.45},{"m":12,"j":10,"v":-0.7},{"m":12,"j":14,"v":-0.4},{"m":12,"j":11,"v":-0.15},{"m":12,"j":9,"v":0.1},{"m":12,"j":15,"v":0.34},{"m":12,"j":12,"v":0.75},{"m":12,"j":9,"v":1.19},{"m":12,"j":13,"v":-2.6},{"m":12,"j":16,"v":-3.33},
{"m":13,"j":4,"v":-1.33},{"m":13,"j":1,"v":-0.75},{"m":13,"j":6,"v":-0.22},{"m":13,"j":3,"v":0.0},{"m":13,"j":8,"v":0.22},{"m":13,"j":2,"v":0.35},{"m":13,"j":5,"v":0.47},{"m":13,"j":7,"v":0.9},{"m":13,"j":3,"v":1.33},
{"m":13,"j":10,"v":-2.07},{"m":13,"j":15,"v":-1.4},{"m":13,"j":11,"v":-0.7},{"m":13,"j":13,"v":-0.35},{"m":13,"j":9,"v":-0.04},{"m":13,"j":16,"v":0.15},{"m":13,"j":12,"v":0.34},{"m":13,"j":14,"v":0.75},{"m":13,"j":15,"v":1.16},{"m":13,"j":10,"v":-2.52},{"m":13,"j":13,"v":-3.0},
{"m":14,"j":6,"v":-1.48},{"m":14,"j":3,"v":-0.95},{"m":14,"j":8,"v":-0.4},{"m":14,"j":1,"v":-0.2},{"m":14,"j":4,"v":0.0},{"m":14,"j":7,"v":0.2},{"m":14,"j":2,"v":0.44},{"m":14,"j":5,"v":0.9},{"m":14,"j":8,"v":1.33},
{"m":14,"j":13,"v":-2.07},{"m":14,"j":16,"v":-1.5},{"m":14,"j":10,"v":-1.0},{"m":14,"j":14,"v":-0.55},{"m":14,"j":11,"v":-0.15},{"m":14,"j":9,"v":0.1},{"m":14,"j":15,"v":0.3},{"m":14,"j":12,"v":0.8},{"m":14,"j":9,"v":1.29},
{"m":15,"j":4,"v":-1.53},{"m":15,"j":1,"v":-1.0},{"m":15,"j":6,"v":-0.44},{"m":15,"j":3,"v":-0.2},{"m":15,"j":8,"v":0.07},{"m":15,"j":2,"v":0.2},{"m":15,"j":5,"v":0.37},{"m":15,"j":7,"v":0.65},{"m":15,"j":3,"v":0.96},
{"m":15,"j":10,"v":-1.82},{"m":15,"j":15,"v":-1.25},{"m":15,"j":11,"v":-0.67},{"m":15,"j":13,"v":-0.4},{"m":15,"j":9,"v":-0.19},{"m":15,"j":16,"v":0.0},{"m":15,"j":12,"v":0.22},{"m":15,"j":14,"v":0.6},{"m":15,"j":15,"v":1.04},
{"m":16,"j":6,"v":-1.11},{"m":16,"j":3,"v":-0.65},{"m":16,"j":8,"v":-0.22},{"m":16,"j":1,"v":0.0},{"m":16,"j":4,"v":0.18},{"m":16,"j":7,"v":0.3},{"m":16,"j":2,"v":0.41},{"m":16,"j":5,"v":0.8},{"m":16,"j":8,"v":1.23},
{"m":16,"j":13,"v":-2.0},{"m":16,"j":16,"v":-1.3},{"m":16,"j":10,"v":-0.59},{"m":16,"j":14,"v":-0.3},{"m":16,"j":11,"v":-0.04},{"m":16,"j":9,"v":0.15},{"m":16,"j":15,"v":0.37},{"m":16,"j":12,"v":0.8},{"m":16,"j":9,"v":1.19},{"m":16,"j":13,"v":-2.44},
{"m":1,"j":2,"v":-0.87},{"m":1,"j":7,"v":-0.26},{"m":1,"j":5,"v":0.12},{"m":1,"j":1,"v":0.26},{"m":1,"j":6,"v":0.55},{"m":1,"j":12,"v":-1.01},{"m":1,"j":15,"v":-0.29},{"m":1,"j":13,"v":-0.14},{"m":1,"j":9,"v":0.1},{"m":1,"j":14,"v":0.54},
{"m":2,"j":8,"v":-0.86},{"m":2,"j":4,"v":-0.19},{"m":2,"j":2,"v":0.01},{"m":2,"j":6,"v":0.22},{"m":2,"j":3,"v":0.7},{"m":2,"j":16,"v":-0.73},{"m":2,"j":11,"v":-0.11},{"m":2,"j":10,"v":0.23},{"m":2,"j":14,"v":0.35},{"m":2,"j":13,"v":0.64},
{"m":3,"j":2,"v":-0.92},{"m":3,"j":7,"v":-0.04},{"m":3,"j":5,"v":0.2},{"m":3,"j":1,"v":0.45},{"m":3,"j":6,"v":1.0},{"m":3,"j":12,"v":-1.69},{"m":3,"j":15,"v":-0.46},{"m":3,"j":13,"v":-0.02},{"m":3,"j":9,"v":0.26},{"m":3,"j":14,"v":0.91},
{"m":4,"j":8,"v":-0.77},{"m":4,"j":4,"v":-0.26},{"m":4,"j":2,"v":0.01},{"m":4,"j":6,"v":0.24},{"m":4,"j":3,"v":0.78},{"m":4,"j":16,"v":-3.31},{"m":4,"j":11,"v":-2.38},{"m":4,"j":10,"v":-0.79},{"m":4,"j":14,"v":-0.36},{"m":4,"j":13,"v":0.4},
{"m":5,"j":2,"v":-0.77},{"m":5,"j":7,"v":0.07},{"m":5,"j":5,"v":0.3},{"m":5,"j":1,"v":0.47},{"m":5,"j":6,"v":0.95},{"m":5,"j":12,"v":-1.92},{"m":5,"j":15,"v":-0.61},{"m":5,"j":13,"v":-0.1},{"m":5,"j":9,"v":0.13},{"m":5,"j":14,"v":0.68},
{"m":6,"j":8,"v":-0.77},{"m":6,"j":4,"v":-0.07},{"m":6,"j":2,"v":0.27},{"m":6,"j":6,"v":0.4},{"m":6,"j":3,"v":0.82},{"m":6,"j":16,"v":-1.6},{"m":6,"j":11,"v":-0.43},{"m":6,"j":10,"v":-0.1},{"m":6,"j":14,"v":0.18},{"m":6,"j":13,"v":0.68},
{"m":7,"j":2,"v":-0.76},{"m":7,"j":7,"v":-0.09},{"m":7,"j":5,"v":0.2},{"m":7,"j":1,"v":0.33},{"m":7,"j":6,"v":0.68},{"m":7,"j":12,"v":-1.19},{"m":7,"j":15,"v":-0.36},{"m":7,"j":13,"v":-0.1},{"m":7,"j":9,"v":0.13},{"m":7,"j":14,"v":0.52},
{"m":8,"j":8,"v":-0.66},{"m":8,"j":4,"v":0.01},{"m":8,"j":2,"v":0.24},{"m":8,"j":6,"v":0.42},{"m":8,"j":3,"v":0.76},{"m":8,"j":16,"v":-1.23},{"m":8,"j":11,"v":-0.33},{"m":8,"j":10,"v":0.01},{"m":8,"j":14,"v":0.17},{"m":8,"j":13,"v":0.58},
{"m":9,"j":2,"v":-0.57},{"m":9,"j":7,"v":0.04},{"m":9,"j":5,"v":0.3},{"m":9,"j":1,"v":0.5},{"m":9,"j":6,"v":0.88},{"m":9,"j":12,"v":-1.28},{"m":9,"j":15,"v":-0.31},{"m":9,"j":13,"v":-0.1},{"m":9,"j":9,"v":0.21},{"m":9,"j":14,"v":0.78},
{"m":10,"j":8,"v":-1.75},{"m":10,"j":4,"v":-1.2},{"m":10,"j":2,"v":-0.5},{"m":10,"j":6,"v":-0.06},{"m":10,"j":3,"v":0.54},{"m":10,"j":16,"v":-1.75},{"m":10,"j":11,"v":-1.35},{"m":10,"j":10,"v":-1.4},{"m":10,"j":14,"v":-0.9},{"m":10,"j":13,"v":0.34},
{"m":11,"j":2,"v":-0.71},{"m":11,"j":7,"v":-0.1},{"m":11,"j":5,"v":0.2},{"m":11,"j":1,"v":0.39},{"m":11,"j":6,"v":0.75},{"m":11,"j":12,"v":-1.24},{"m":11,"j":15,"v":-0.35},{"m":11,"j":13,"v":0.01},{"m":11,"j":9,"v":0.24},{"m":11,"j":14,"v":0.67},
{"m":12,"j":8,"v":-0.67},{"m":12,"j":4,"v":0.0},{"m":12,"j":2,"v":0.3},{"m":12,"j":6,"v":0.46},{"m":12,"j":3,"v":0.86},{"m":12,"j":16,"v":-1.36},{"m":12,"j":11,"v":-0.39},{"m":12,"j":10,"v":-0.1},{"m":12,"j":14,"v":0.15},{"m":12,"j":13,"v":0.6},
{"m":13,"j":2,"v":-0.68},{"m":13,"j":7,"v":-0.01},{"m":13,"j":5,"v":0.27},{"m":13,"j":1,"v":0.4},{"m":13,"j":6,"v":0.73},{"m":13,"j":12,"v":-1.29},{"m":13,"j":15,"v":-0.39},{"m":13,"j":13,"v":0.01},{"m":13,"j":9,"v":0.2},{"m":13,"j":14,"v":0.59},
{"m":14,"j":8,"v":-0.84},{"m":14,"j":4,"v":-0.15},{"m":14,"j":2,"v":0.05},{"m":14,"j":6,"v":0.27},{"m":14,"j":3,"v":0.71},{"m":14,"j":16,"v":-1.44},{"m":14,"j":11,"v":-0.61},{"m":14,"j":10,"v":-0.1},{"m":14,"j":14,"v":0.13},{"m":14,"j":13,"v":0.6},
{"m":15,"j":2,"v":-0.89},{"m":15,"j":7,"v":-0.19},{"m":15,"j":5,"v":0.12},{"m":15,"j":1,"v":0.27},{"m":15,"j":6,"v":0.55},{"m":15,"j":12,"v":-1.15},{"m":15,"j":15,"v":-0.4},{"m":15,"j":13,"v":-0.14},{"m":15,"j":9,"v":0.07},{"m":15,"j":14,"v":0.47},
{"m":16,"j":8,"v":-0.57},{"m":16,"j":4,"v":0.03},{"m":16,"j":2,"v":0.23},{"m":16,"j":6,"v":0.35},{"m":16,"j":3,"v":0.66},{"m":16,"j":16,"v":-1.2},{"m":16,"j":11,"v":-0.32},{"m":16,"j":10,"v":0.01},{"m":16,"j":14,"v":0.22},{"m":16,"j":13,"v":0.62}
]
},
"spacing":-179,
"hconcat":[
{"spacing":5,"vconcat":[
 {"spacing":10,"hconcat":[
  {"width":59,"height":107,"view":{"fill":"#d9d9d9"},"title":{"text":"(A)","anchor":"start","frame":"group","font":"Liberation Serif","fontSize":21,"fontWeight":"bold","color":"black","dx":11,"offset":17},"data":{"values":[{"t":"Amino\nAcid"}]},"mark":{"type":"text","angle":270,"fontSize":14,"color":"#1a1a1a","lineBreak":"\n","lineHeight":16,"dy":-8},"encoding":{"text":{"field":"t"}}},
  {"width":74,"height":107,"resolve":{"scale":{"x":"independent","y":"independent"}},"layer":[
   {"data":{"name":"heat"},"transform":[{"filter":"datum.c == 'AA'"}],"mark":"rect","encoding":{"y":{"field":"i","type":"ordinal","axis":null,"scale":{"paddingInner":0,"paddingOuter":0}},"fill":{"field":"f","type":"quantitative","scale":{"domain":[-2.05,0,2.3],"range":["#3a8a4c","#f7f7f7","#762a83"],"interpolate":"lab"},"legend":{"title":"log₂ (FC)","orient":"none","legendX":151,"legendY":223,"direction":"vertical","gradientLength":123,"gradientThickness":24,"values":[-2,-1,0,1,2],"titleFontSize":16,"titleFontWeight":"normal","titleColor":"#1a1a1a","labelFontSize":12,"labelColor":"#1a1a1a","titlePadding":6,"labelOffset":8,"gradientStrokeWidth":0}}}},
   {"data":{"values":[{"lx":1.0,"ly":1.0841,"lx2":3.419,"ly2":0.8598}]},"mark":{"type":"rule","color":"black","strokeWidth":1.2},"encoding":{"x":{"field":"lx","type":"quantitative","scale":{"domain":[0,1],"nice":false,"zero":false},"axis":null},"x2":{"field":"lx2"},"y":{"field":"ly","type":"quantitative","scale":{"domain":[0,1],"nice":false,"zero":false},"axis":null},"y2":{"field":"ly2"}}}
  ]}
 ]},
 {"spacing":10,"hconcat":[
  {"width":59,"height":107,"view":{"fill":"#d9d9d9"},"data":{"values":[{"t":"Carbohydrate"}]},"mark":{"type":"text","angle":270,"fontSize":14,"color":"#1a1a1a"},"encoding":{"text":{"field":"t"}}},
  {"width":74,"height":107,"data":{"name":"heat"},"transform":[{"filter":"datum.c == 'CH'"}],"mark":"rect","encoding":{"y":{"field":"i","type":"ordinal","axis":null,"scale":{"paddingInner":0,"paddingOuter":0}},"fill":{"field":"f","type":"quantitative"}}}
 ]},
 {"spacing":10,"hconcat":[
  {"width":59,"height":107,"view":{"fill":"#d9d9d9"},"data":{"values":[{"t":"Cofactors\nand\nVitamins"}]},"mark":{"type":"text","angle":270,"fontSize":14,"color":"#1a1a1a","lineBreak":"\n","lineHeight":16,"dy":-16},"encoding":{"text":{"field":"t"}}},
  {"width":74,"height":107,"data":{"name":"heat"},"transform":[{"filter":"datum.c == 'CV'"}],"mark":"rect","encoding":{"y":{"field":"i","type":"ordinal","axis":null,"scale":{"paddingInner":0,"paddingOuter":0}},"fill":{"field":"f","type":"quantitative"}}}
 ]},
 {"spacing":10,"hconcat":[
  {"width":59,"height":107,"view":{"fill":"#d9d9d9"},"data":{"values":[{"t":"Lipid"}]},"mark":{"type":"text","angle":270,"fontSize":14,"color":"#1a1a1a"},"encoding":{"text":{"field":"t"}}},
  {"width":74,"height":107,"data":{"name":"heat"},"transform":[{"filter":"datum.c == 'LI'"}],"mark":"rect","encoding":{"y":{"field":"i","type":"ordinal","axis":null,"scale":{"paddingInner":0,"paddingOuter":0}},"fill":{"field":"f","type":"quantitative"}}}
 ]},
 {"spacing":10,"hconcat":[
  {"width":59,"height":107,"view":{"fill":"#d9d9d9"},"data":{"values":[{"t":"Peptide"}]},"mark":{"type":"text","angle":270,"fontSize":14,"color":"#1a1a1a"},"encoding":{"text":{"field":"t"}}},
  {"width":74,"height":107,"data":{"name":"heat"},"transform":[{"filter":"datum.c == 'PE'"}],"mark":"rect","encoding":{"y":{"field":"i","type":"ordinal","axis":null,"scale":{"paddingInner":0,"paddingOuter":0}},"fill":{"field":"f","type":"quantitative"}}}
 ]},
 {"spacing":10,"hconcat":[
  {"width":59,"height":107,"view":{"fill":"#d9d9d9"},"data":{"values":[{"t":"Xenobiotics"}]},"mark":{"type":"text","angle":270,"fontSize":14,"color":"#1a1a1a"},"encoding":{"text":{"field":"t"}}},
  {"width":74,"height":107,"data":{"name":"heat"},"transform":[{"filter":"datum.c == 'XE'"}],"mark":"rect","encoding":{"y":{"field":"i","type":"ordinal","axis":null,"scale":{"paddingInner":0,"paddingOuter":0}},"fill":{"field":"f","type":"quantitative"}}}
 ]}
]},
{"spacing":-7,"resolve":{"scale":{"xOffset":"independent"}},"vconcat":[
 {"spacing":0,"vconcat":[
  {"width":398,"height":5,"title":{"text":"(B)","anchor":"start","frame":"group","font":"Liberation Serif","fontSize":21,"fontWeight":"bold","color":"black","dx":-28,"offset":9},
   "data":{"values":[]},"mark":{"type":"point","opacity":0}},
  {"width":398,"height":17,"view":{"fill":"#e3e3e3"},"data":{"values":[{"t":"Amino Acid"}]},"mark":{"type":"text","fontSize":11,"color":"#1a1a1a"},"encoding":{"text":{"field":"t"}}},
  {"width":398,"height":194,"resolve":{"scale":{"x":"independent"}},"layer":[
   {"resolve":{"scale":{"xOffset":"independent"}},"layer":[
    {"data":{"name":"boxB"},"transform":[{"lookup":"m","from":{"data":{"name":"namesB"},"key":"m","fields":["name"]}}],"mark":{"type":"rule","strokeWidth":1.3},
     "encoding":{"x":{"field":"name","type":"nominal","title":null,"scale":{"paddingInner":0.14,"paddingOuter":0.17},"axis":{"title":null,"labelAngle":-45,"labelAlign":"right","labelBaseline":"top","labelFontSize":10.5,"labelColor":"#4d4d4d","tickColor":"#333333","tickSize":3,"domainColor":"#000000","domainWidth":1.5,"labelPadding":2,"labelLimit":0,"labelOverlap":false}},
      "xOffset":{"field":"site","type":"nominal","scale":{"paddingInner":0,"paddingOuter":0}},
      "y":{"field":"lo","type":"quantitative","title":"log-normalized value","scale":{"domain":[-4.2,4.38],"nice":false,"zero":false},"axis":{"title":"log-normalized value","values":[-4,-2,0,2,4],"labelFontSize":7,"labelColor":"#4d4d4d","tickColor":"#4d4d4d","tickSize":2.5,"domainColor":"#000000","domainWidth":1.5,"labelPadding":1,"titleX":-85,"titleY":228,"titleFontSize":12.5,"titleFontWeight":"normal","titleColor":"#1a1a1a"}},
      "y2":{"field":"q1"},
      "color":{"field":"site","type":"nominal","scale":{"domain":["Baoding","Dalian"],"range":["#c27ac0","#4ea84c"]},"legend":{"title":"SITE","orient":"none","legendX":734,"legendY":260,"titleFontSize":12,"titleFontWeight":"normal","titleColor":"#1a1a1a","labelFontSize":12,"labelColor":"#1a1a1a","symbolType":"M-0.7,-0.45H0.7V0.45H-0.7ZM-0.7,0H0.7M0,-0.45V-1M0,0.45V1","symbolSize":120,"symbolStrokeWidth":1.5,"rowPadding":0,"titlePadding":6,"labelOffset":6,"encode":{"symbols":{"update":{"fill":{"value":"transparent"},"stroke":{"scale":"color","field":"value"},"opacity":{"value":1}}}}}}}},
    {"data":{"name":"boxB"},"transform":[{"lookup":"m","from":{"data":{"name":"namesB"},"key":"m","fields":["name"]}}],"mark":{"type":"rule","strokeWidth":1.3},
     "encoding":{"x":{"field":"name","type":"nominal","title":null},"xOffset":{"field":"site","type":"nominal","scale":{"paddingInner":0,"paddingOuter":0}},"y":{"field":"q3","type":"quantitative","title":"log-normalized value"},"y2":{"field":"hi"},"color":{"field":"site","type":"nominal"}}},
    {"data":{"name":"boxB"},"transform":[{"lookup":"m","from":{"data":{"name":"namesB"},"key":"m","fields":["name"]}}],"mark":{"type":"bar","filled":false,"strokeWidth":1.5},
     "encoding":{"x":{"field":"name","type":"nominal","title":null},"xOffset":{"field":"site","type":"nominal","scale":{"paddingInner":0,"paddingOuter":0}},"y":{"field":"q1","type":"quantitative","title":"log-normalized value"},"y2":{"field":"q3"},"color":{"field":"site","type":"nominal"}}},
    {"data":{"name":"boxB"},"transform":[{"lookup":"m","from":{"data":{"name":"namesB"},"key":"m","fields":["name"]}}],"mark":{"type":"tick","thickness":1.6,"size":12},
     "encoding":{"x":{"field":"name","type":"nominal","title":null},"xOffset":{"field":"site","type":"nominal","scale":{"paddingInner":0,"paddingOuter":0}},"y":{"field":"md","type":"quantitative","title":"log-normalized value"},"color":{"field":"site","type":"nominal"}}},
    {"data":{"name":"ptsB"},"transform":[{"lookup":"m","from":{"data":{"name":"namesB"},"key":"m","fields":["name"]}},{"lookup":"j","from":{"data":{"name":"jsite"},"key":"j","fields":["site"]}}],"mark":{"type":"circle","size":7,"opacity":0.85},
     "encoding":{"x":{"field":"name","type":"nominal","title":null},"xOffset":{"field":"j","type":"nominal","scale":{"domain":[1,2,3,4,5,6,7,8,9,10,11,12,13,14,15,16],"paddingInner":0,"paddingOuter":0.6}},"y":{"field":"v","type":"quantitative","title":"log-normalized value"},"color":{"field":"site","type":"nominal"}}},
    {"data":{"name":"sigB"},"transform":[{"lookup":"m","from":{"data":{"name":"namesB"},"key":"m","fields":["name"]}}],"mark":{"type":"text","text":"*","color":"#ff0000","fontSize":13,"baseline":"middle","dy":3},
     "encoding":{"x":{"field":"name","type":"nominal","title":null},"y":{"datum":4.1,"title":"log-normalized value"}}}
   ]},
   {"data":{"values":[{"lx":-0.4548,"ly":0.71,"lx2":-0.0025,"ly2":-4.25}]},"mark":{"type":"rule","color":"black","strokeWidth":1.2},"encoding":{"x":{"field":"lx","type":"quantitative","scale":{"domain":[0,1],"nice":false,"zero":false},"axis":null},"x2":{"field":"lx2"},"y":{"field":"ly","type":"quantitative","title":"log-normalized value"},"y2":{"field":"ly2"}}}
  ]}
 ]},
 {"spacing":0,"vconcat":[
  {"width":398,"height":18,"view":{"fill":"#e3e3e3"},"title":{"text":"(C)","anchor":"start","frame":"group","font":"Liberation Serif","fontSize":21,"fontWeight":"bold","color":"black","dx":-42,"offset":0,"dy":15},"data":{"values":[{"t":"Peptide"}]},"mark":{"type":"text","fontSize":11,"color":"#1a1a1a"},"encoding":{"text":{"field":"t"}}},
  {"width":398,"height":194,"resolve":{"scale":{"x":"independent"}},"layer":[
   {"resolve":{"scale":{"xOffset":"independent"}},"layer":[
    {"data":{"name":"boxC"},"transform":[{"lookup":"m","from":{"data":{"name":"namesC"},"key":"m","fields":["name"]}}],"mark":{"type":"rule","strokeWidth":1.3},
     "encoding":{"x":{"field":"name","type":"nominal","title":null,"scale":{"paddingInner":0.186,"paddingOuter":0.193},"axis":{"title":null,"labelAngle":-45,"labelAlign":"right","labelBaseline":"top","labelFontSize":10.5,"labelColor":"#4d4d4d","tickColor":"#333333","tickSize":3,"domainColor":"#000000","domainWidth":1.5,"labelPadding":2,"labelLimit":0,"labelOverlap":false}},
      "xOffset":{"field":"site","type":"nominal","scale":{"paddingInner":0,"paddingOuter":0}},
      "y":{"field":"lo","type":"quantitative","title":null,"scale":{"domain":[-4.2,4.38],"nice":false,"zero":false},"axis":{"title":null,"values":[-4,-2,0,2,4],"labelFontSize":7,"labelColor":"#4d4d4d","tickColor":"#4d4d4d","tickSize":2.5,"domainColor":"#000000","domainWidth":1.5,"labelPadding":1}},
      "y2":{"field":"q1"},"color":{"field":"site","type":"nominal"}}},
    {"data":{"name":"boxC"},"transform":[{"lookup":"m","from":{"data":{"name":"namesC"},"key":"m","fields":["name"]}}],"mark":{"type":"rule","strokeWidth":1.3},
     "encoding":{"x":{"field":"name","type":"nominal","title":null},"xOffset":{"field":"site","type":"nominal","scale":{"paddingInner":0,"paddingOuter":0}},"y":{"field":"q3","type":"quantitative","title":null},"y2":{"field":"hi"},"color":{"field":"site","type":"nominal"}}},
    {"data":{"name":"boxC"},"transform":[{"lookup":"m","from":{"data":{"name":"namesC"},"key":"m","fields":["name"]}}],"mark":{"type":"bar","filled":false,"strokeWidth":1.5},
     "encoding":{"x":{"field":"name","type":"nominal","title":null},"xOffset":{"field":"site","type":"nominal","scale":{"paddingInner":0,"paddingOuter":0}},"y":{"field":"q1","type":"quantitative","title":null},"y2":{"field":"q3"},"color":{"field":"site","type":"nominal"}}},
    {"data":{"name":"boxC"},"transform":[{"lookup":"m","from":{"data":{"name":"namesC"},"key":"m","fields":["name"]}}],"mark":{"type":"tick","thickness":1.6,"size":10},
     "encoding":{"x":{"field":"name","type":"nominal","title":null},"xOffset":{"field":"site","type":"nominal","scale":{"paddingInner":0,"paddingOuter":0}},"y":{"field":"md","type":"quantitative","title":null},"color":{"field":"site","type":"nominal"}}},
    {"data":{"name":"ptsC"},"transform":[{"lookup":"m","from":{"data":{"name":"namesC"},"key":"m","fields":["name"]}},{"lookup":"j","from":{"data":{"name":"jsite"},"key":"j","fields":["site"]}}],"mark":{"type":"circle","size":7,"opacity":0.85},
     "encoding":{"x":{"field":"name","type":"nominal","title":null},"xOffset":{"field":"j","type":"nominal","scale":{"domain":[1,2,3,4,5,6,7,8,9,10,11,12,13,14,15,16],"paddingInner":0,"paddingOuter":0.6}},"y":{"field":"v","type":"quantitative","title":null},"color":{"field":"site","type":"nominal"}}},
    {"data":{"name":"sigC"},"transform":[{"lookup":"m","from":{"data":{"name":"namesC"},"key":"m","fields":["name"]}}],"mark":{"type":"text","text":"*","color":"#ff0000","fontSize":13,"baseline":"middle","dy":3},
     "encoding":{"x":{"field":"name","type":"nominal","title":null},"y":{"datum":4.1}}}
   ]},
   {"data":{"values":[{"lx":-0.4548,"ly":0.31,"lx2":-0.0025,"ly2":4.33},{"lx":-0.4548,"ly":-4.42,"lx2":-0.0025,"ly2":-4.2}]},"mark":{"type":"rule","color":"black","strokeWidth":1.2},"encoding":{"x":{"field":"lx","type":"quantitative","scale":{"domain":[0,1],"nice":false,"zero":false},"axis":null},"x2":{"field":"lx2"},"y":{"field":"ly","type":"quantitative","title":null},"y2":{"field":"ly2"}}}
  ]}
 ]}
]}
]
}
